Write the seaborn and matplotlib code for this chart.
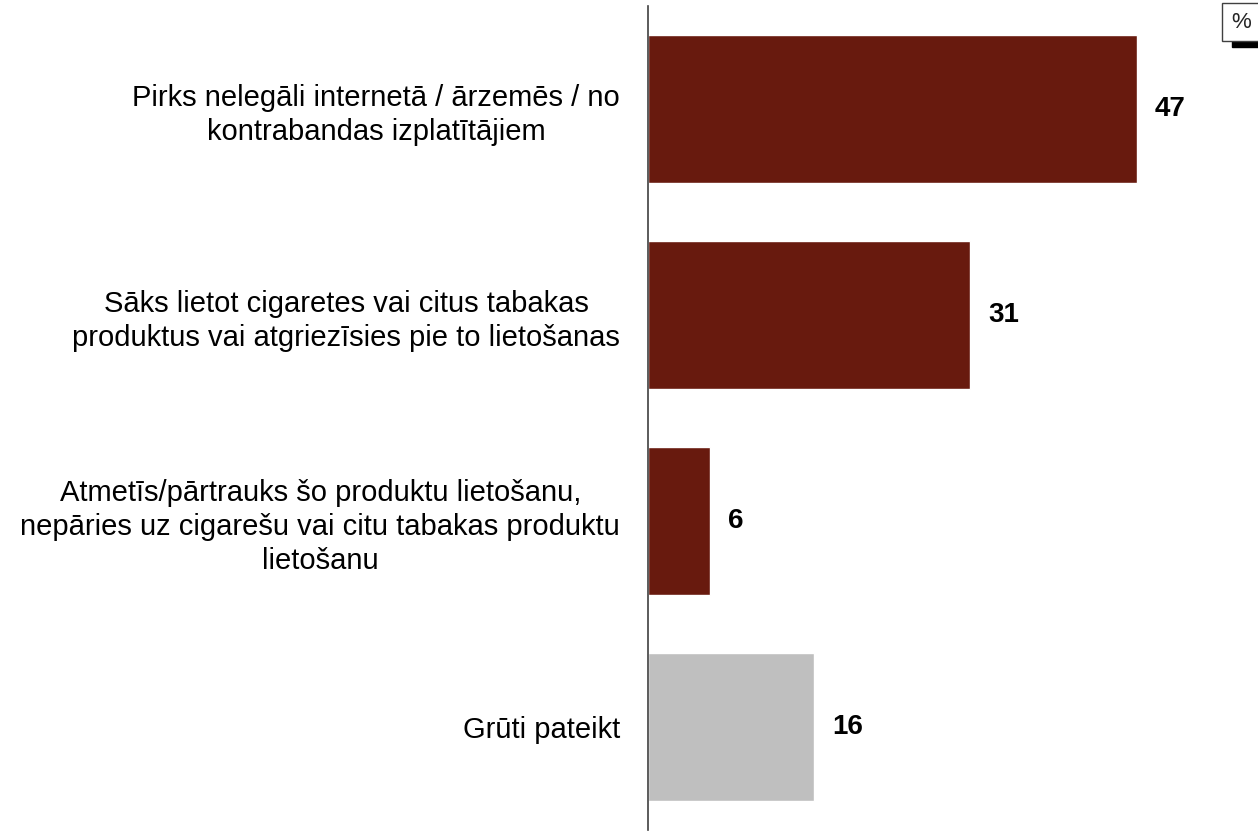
import matplotlib
matplotlib.use("Agg")
import matplotlib.pyplot as plt
import seaborn as sns
import pandas as pd
from matplotlib.patches import Rectangle

categories = [
    "Pirks nelegāli internetā / ārzemēs / no\nkontrabandas izplatītājiem",
    "Sāks lietot cigaretes vai citus tabakas\nproduktus vai atgriezīsies pie to lietošanas",
    "Atmetīs/pārtrauks šo produktu lietošanu,\nnepāries uz cigarešu vai citu tabakas produktu\nlietošanu",
    "Grūti pateikt",
]
values = [47, 31, 6, 16]
colors = ["#681A0E", "#681A0E", "#681A0E", "#BFBFBF"]

sns.set_theme(style="white")
plt.rcParams['font.family'] = ['Liberation Sans', 'DejaVu Sans']

W, H = 1258, 833
fig = plt.figure(figsize=(W / 100, H / 100), dpi=100)
ax = fig.add_axes([648 / W, 1 - 830 / H, 1 - 648 / W, 824 / H])

df = pd.DataFrame({"cat": categories, "val": values})
sns.barplot(data=df, y="cat", x="val", hue="cat", palette=colors, legend=False,
            width=0.714, saturation=1, ax=ax, orient="h")

ax.set_xlim(0, 610 / 10.4)
ax.set_ylim(3.5, -0.5)
for s in ["top", "right", "bottom"]:
    ax.spines[s].set_visible(False)
ax.spines["left"].set_color("#404040")
ax.spines["left"].set_linewidth(1.2)
ax.set_xticks([])
ax.set_xlabel("")
ax.set_ylabel("")
ax.tick_params(axis="y", length=0, pad=20)
ax.set_yticks(range(len(categories)))
ax.set_yticklabels(categories, fontsize=21, color="black",
                   multialignment="center", linespacing=1.28)

for i, v in enumerate(values):
    ax.text(v + 1.7, i, f"{v}", va="center", ha="left", fontsize=20,
            fontweight="bold", color="black")

fig.text(1241 / W, 1 - 22 / H, "%", ha="center", va="center", fontsize=16,
         bbox=dict(boxstyle="square,pad=0.4", fc="white", ec="#404040", lw=1))
fig.patches.append(Rectangle((1232 / W, 1 - 47 / H), 26 / W, 6 / H,
                             transform=fig.transFigure, color="black"))

fig.savefig("out.png", dpi=100)
